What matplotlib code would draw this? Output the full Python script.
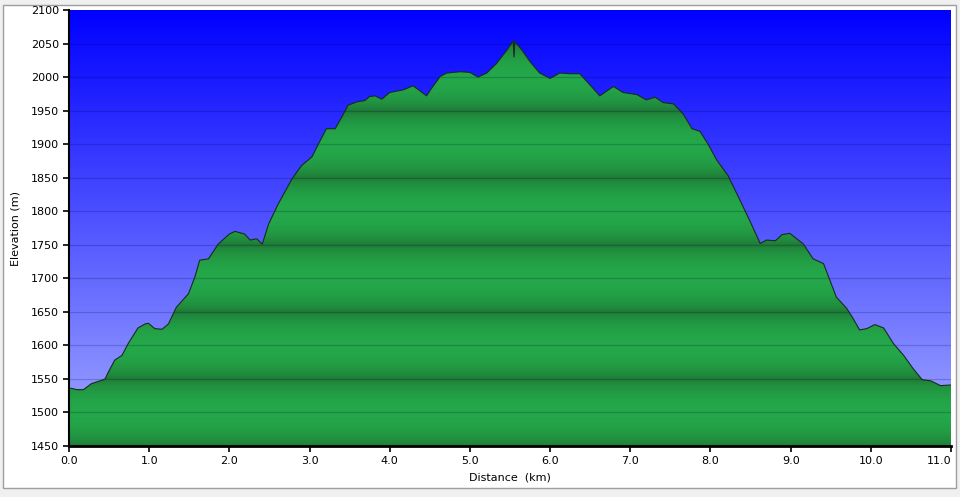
import numpy as np
import matplotlib
matplotlib.use("Agg")
import matplotlib.pyplot as plt
from matplotlib.patches import Polygon, Rectangle

# ---- data (distance km, elevation m) ----
distance = [0.00, 0.03, 0.10, 0.18, 0.28, 0.41, 0.45, 0.49, 0.57, 0.66, 0.74, 0.86, 0.95, 0.99,
            1.07, 1.16, 1.24, 1.34, 1.49, 1.57, 1.63, 1.74, 1.86, 2.00, 2.07, 2.19, 2.26, 2.34,
            2.41, 2.49, 2.61, 2.78, 2.90, 3.03, 3.11, 3.21, 3.32, 3.40, 3.48, 3.59, 3.69, 3.75,
            3.82, 3.90, 4.00, 4.17, 4.29, 4.36, 4.46, 4.52, 4.63, 4.71, 4.88, 5.00, 5.10, 5.21,
            5.33, 5.46, 5.54, 5.55, 5.56, 5.65, 5.75, 5.87, 6.00, 6.12, 6.25, 6.37, 6.50, 6.62,
            6.79, 6.91, 7.08, 7.20, 7.31, 7.41, 7.54, 7.66, 7.77, 7.87, 7.97, 8.08, 8.22, 8.37,
            8.49, 8.62, 8.70, 8.81, 8.89, 8.99, 9.16, 9.28, 9.41, 9.49, 9.57, 9.70, 9.78, 9.86,
            9.95, 10.05, 10.16, 10.28, 10.41, 10.53, 10.64, 10.75, 10.87, 11.00]
elevation = [1536, 1536, 1534, 1534, 1543, 1548, 1550, 1560, 1578, 1585, 1603, 1626, 1632, 1633,
             1625, 1624, 1632, 1657, 1677, 1702, 1727, 1729, 1751, 1766, 1770, 1766, 1757, 1759,
             1751, 1781, 1811, 1848, 1868, 1881, 1900, 1923, 1923, 1940, 1958, 1963, 1965, 1971,
             1972, 1967, 1977, 1981, 1987, 1981, 1972, 1983, 2001, 2006, 2008, 2007, 2000, 2006,
             2020, 2040, 2054, 2030, 2053, 2040, 2023, 2006, 1998, 2006, 2005, 2005, 1988, 1972,
             1986, 1977, 1974, 1966, 1970, 1962, 1960, 1945, 1923, 1919, 1900, 1876, 1853, 1816,
             1786, 1752, 1757, 1756, 1765, 1767, 1751, 1729, 1722, 1697, 1672, 1655, 1640, 1623,
             1625, 1631, 1626, 1603, 1585, 1565, 1549, 1547, 1540, 1541]

x_ticks = [0.0, 1.0, 2.0, 3.0, 4.0, 5.0, 6.0, 7.0, 8.0, 9.0, 10.0, 11.0]
y_ticks = list(range(1450, 2101, 50))
x_min, x_max = 0.0, 11.0
y_min, y_max = 1450, 2100

fig = plt.figure(figsize=(9.6, 4.97), dpi=100)
fig.patch.set_facecolor((0.94, 0.94, 0.94))
panel = Rectangle((3 / 960, 1 - 488 / 497), 953 / 960, 483 / 497,
                  transform=fig.transFigure, facecolor="white",
                  edgecolor=(0.62, 0.62, 0.62), linewidth=1.0, zorder=-5)
fig.add_artist(panel)

ax = fig.add_axes([69 / 960, 1 - 446 / 497, 882 / 960, 436 / 497])
ax.set_zorder(2)
ax.set_xlim(x_min, x_max)
ax.set_ylim(y_min, y_max)

# sky gradient
n = 400
t = np.linspace(0, 1, n)[:, None]  # 0 top -> 1 bottom
sky = np.zeros((n, 1, 3))
sky[:, :, 0] = 0.64 * t
sky[:, :, 1] = 0.67 * t
sky[:, :, 2] = 1.0
ax.imshow(sky, extent=[x_min, x_max, y_min, y_max], aspect="auto", origin="upper",
          zorder=0, interpolation="bilinear")

# green banded fill
vals = np.linspace(y_max, y_min, 1300)
phase = ((vals - y_min) % 100) / 100.0
b = np.sin(np.pi * phase) ** 0.6
dark = np.array([30, 118, 52]) / 255
light = np.array([36, 168, 74]) / 255
green = (dark[None, :] + (light - dark)[None, :] * b[:, None])[:, None, :]
im = ax.imshow(green, extent=[x_min, x_max, y_min, y_max], aspect="auto", origin="upper",
               zorder=1, interpolation="bilinear")
verts = [(distance[0], y_min)] + list(zip(distance, elevation)) + [(distance[-1], y_min)]
poly = Polygon(verts, closed=True, facecolor="none", edgecolor="none", transform=ax.transData)
ax.add_patch(poly)
im.set_clip_path(poly)

ax.plot(distance, elevation, color=(0.1, 0.17, 0.12), linewidth=0.8, zorder=3)

# grid lines
for v in y_ticks[1:-1]:
    ax.axhline(v, color=(0.0, 0.0, 0.25), alpha=0.2, linewidth=0.9, zorder=2)

ax.set_xticks(x_ticks)
ax.set_xticklabels([f"{v:.1f}" for v in x_ticks])
ax.set_yticks(y_ticks)
ax.set_yticklabels([str(v) for v in y_ticks])
ax.tick_params(axis="both", direction="out", length=4, width=1.2, labelsize=8,
               color="black", labelcolor="black")
ax.tick_params(axis="x", pad=3)
ax.tick_params(axis="y", pad=3)
ax.get_xticklabels()[-1].set_horizontalalignment("right")

for s in ["top", "right"]:
    ax.spines[s].set_visible(False)
ax.spines["left"].set_linewidth(1.5)
ax.spines["bottom"].set_linewidth(2.0)
ax.spines["left"].set_zorder(5)
ax.spines["bottom"].set_zorder(5)

ax.set_xlabel("Distance  (km)", fontsize=8, labelpad=5)
ax.set_ylabel("Elevation (m)", fontsize=8, labelpad=8)

fig.savefig("out.png", dpi=100, facecolor=fig.get_facecolor())
